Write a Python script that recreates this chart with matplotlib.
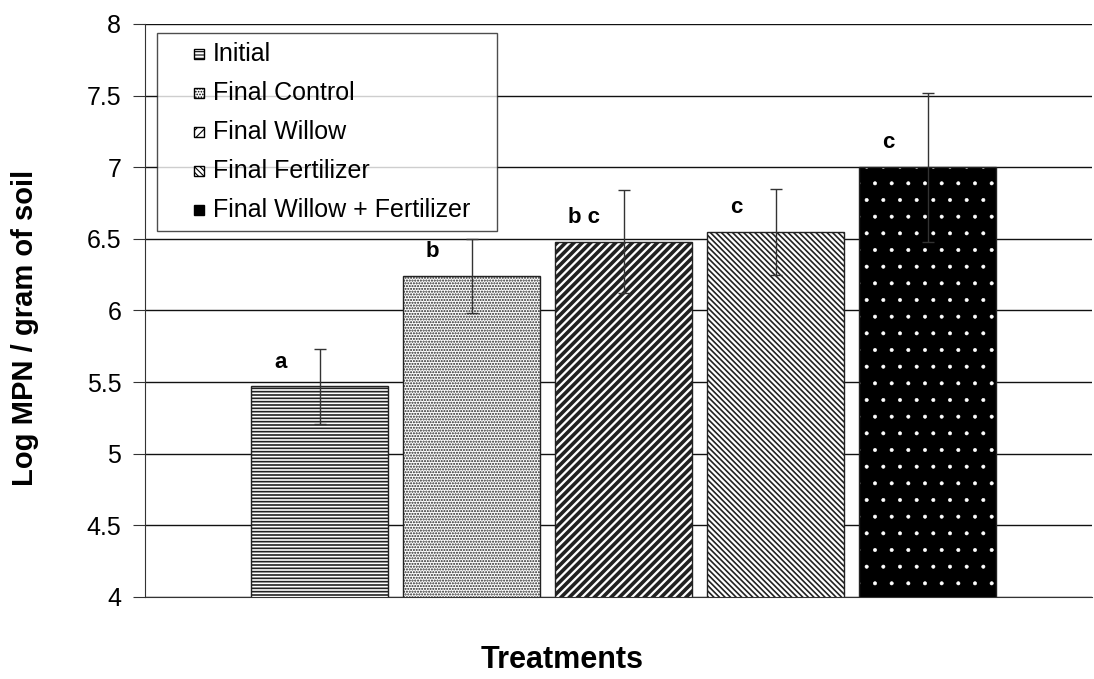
import matplotlib.pyplot as plt
import matplotlib.patches as mpatches
from matplotlib.legend_handler import HandlerPatch

plt.rcParams['font.family'] = ['Liberation Sans', 'DejaVu Sans']

treatments = ['Initial', 'Final Control', 'Final Willow', 'Final Fertilizer',
              'Final Willow + Fertilizer']
values = [5.47, 6.24, 6.48, 6.55, 7.00]
errors = [0.26, 0.26, 0.36, 0.30, 0.52]
letters = ['a', 'b', 'b c', 'c', 'c']
hatches = ['-----', '......', '////', '\\\\\\\\\\\\', '.']
hatch_lw = [1.2, 1.0, 2.6, 1.2, 0.4]

fig = plt.figure(figsize=(10.94, 6.79), dpi=100)
ax = fig.add_axes([0.1325, 0.1208, 0.8655, 0.8439])


def set_hlw(p, lw):
    if hasattr(p, 'set_hatch_linewidth'):
        p.set_hatch_linewidth(lw)


x = list(range(len(treatments)))
handles = []
for i in x:
    plt.rcParams['hatch.linewidth'] = hatch_lw[i]
    if i == 4:
        # black bar, white dots
        bb = ax.bar(i, values[i], width=0.9, color='black', edgecolor='white',
                    hatch=hatches[i], linewidth=0, zorder=2)
        set_hlw(bb[0], hatch_lw[i])
        ax.bar(i, values[i], width=0.9, fill=False, edgecolor='#222222',
               linewidth=1, zorder=3)
        h = mpatches.Patch(facecolor='black', edgecolor='black')
    else:
        bb = ax.bar(i, values[i], width=0.9, color='white', edgecolor='#222222',
                    hatch=hatches[i], linewidth=1, zorder=2)
        set_hlw(bb[0], hatch_lw[i])
        h = mpatches.Patch(facecolor='white', edgecolor='black', hatch=hatches[i])
    handles.append(h)
    ax.errorbar(i, values[i], yerr=errors[i], fmt='none', ecolor='#333333',
                elinewidth=1, capsize=4, capthick=1, zorder=4)
    ax.text(i - 0.26, values[i] + 0.17, letters[i], ha='center', va='center',
            fontsize=16, fontweight='bold')
plt.rcParams['hatch.linewidth'] = 0.8

ax.set_xlim(-1.15, 5.08)
ax.set_ylim(4, 8)
ax.set_yticks([4, 4.5, 5, 5.5, 6, 6.5, 7, 7.5, 8])
ax.set_yticklabels(['4', '4.5', '5', '5.5', '6', '6.5', '7', '7.5', '8'])
ax.set_xticks([])
ax.yaxis.grid(True, color='#111111', linewidth=1)
ax.set_axisbelow(True)
ax.tick_params(axis='y', labelsize=18, length=9, direction='out', pad=8,
               color='#333333')
for s in ['top', 'right']:
    ax.spines[s].set_visible(False)
ax.spines['left'].set_color('#333333')
ax.spines['bottom'].set_color('#333333')

fig.text(0.0229, 0.517, 'Log MPN / gram of soil', rotation=90, ha='center',
         va='center', fontsize=21, fontweight='bold')
fig.text(0.514, 0.016, 'Treatments', ha='center', va='baseline', fontsize=22,
         fontweight='bold')


class SmallSquare(HandlerPatch):
    def __init__(self):
        def make(legend, orig_handle, xdescent, ydescent, width, height, fontsize):
            s = 0.4 * fontsize
            return mpatches.Rectangle((width - s - xdescent, -ydescent + 0.05 * fontsize),
                                      s, s)
        super().__init__(patch_func=make)


leg = ax.legend(handles, treatments, loc='upper left',
                bbox_to_anchor=(0.0127, 0.0, 0.359, 0.984), mode='expand',
                fontsize=18, frameon=True, fancybox=False, edgecolor='#222222',
                handlelength=1.55, handleheight=0.6, handletextpad=0.35,
                labelspacing=0.6, borderpad=0.35, borderaxespad=0,
                handler_map={mpatches.Patch: SmallSquare()})
leg.get_frame().set_linewidth(1)
leg.set_zorder(10)

fig.savefig('out.png', dpi=100)
